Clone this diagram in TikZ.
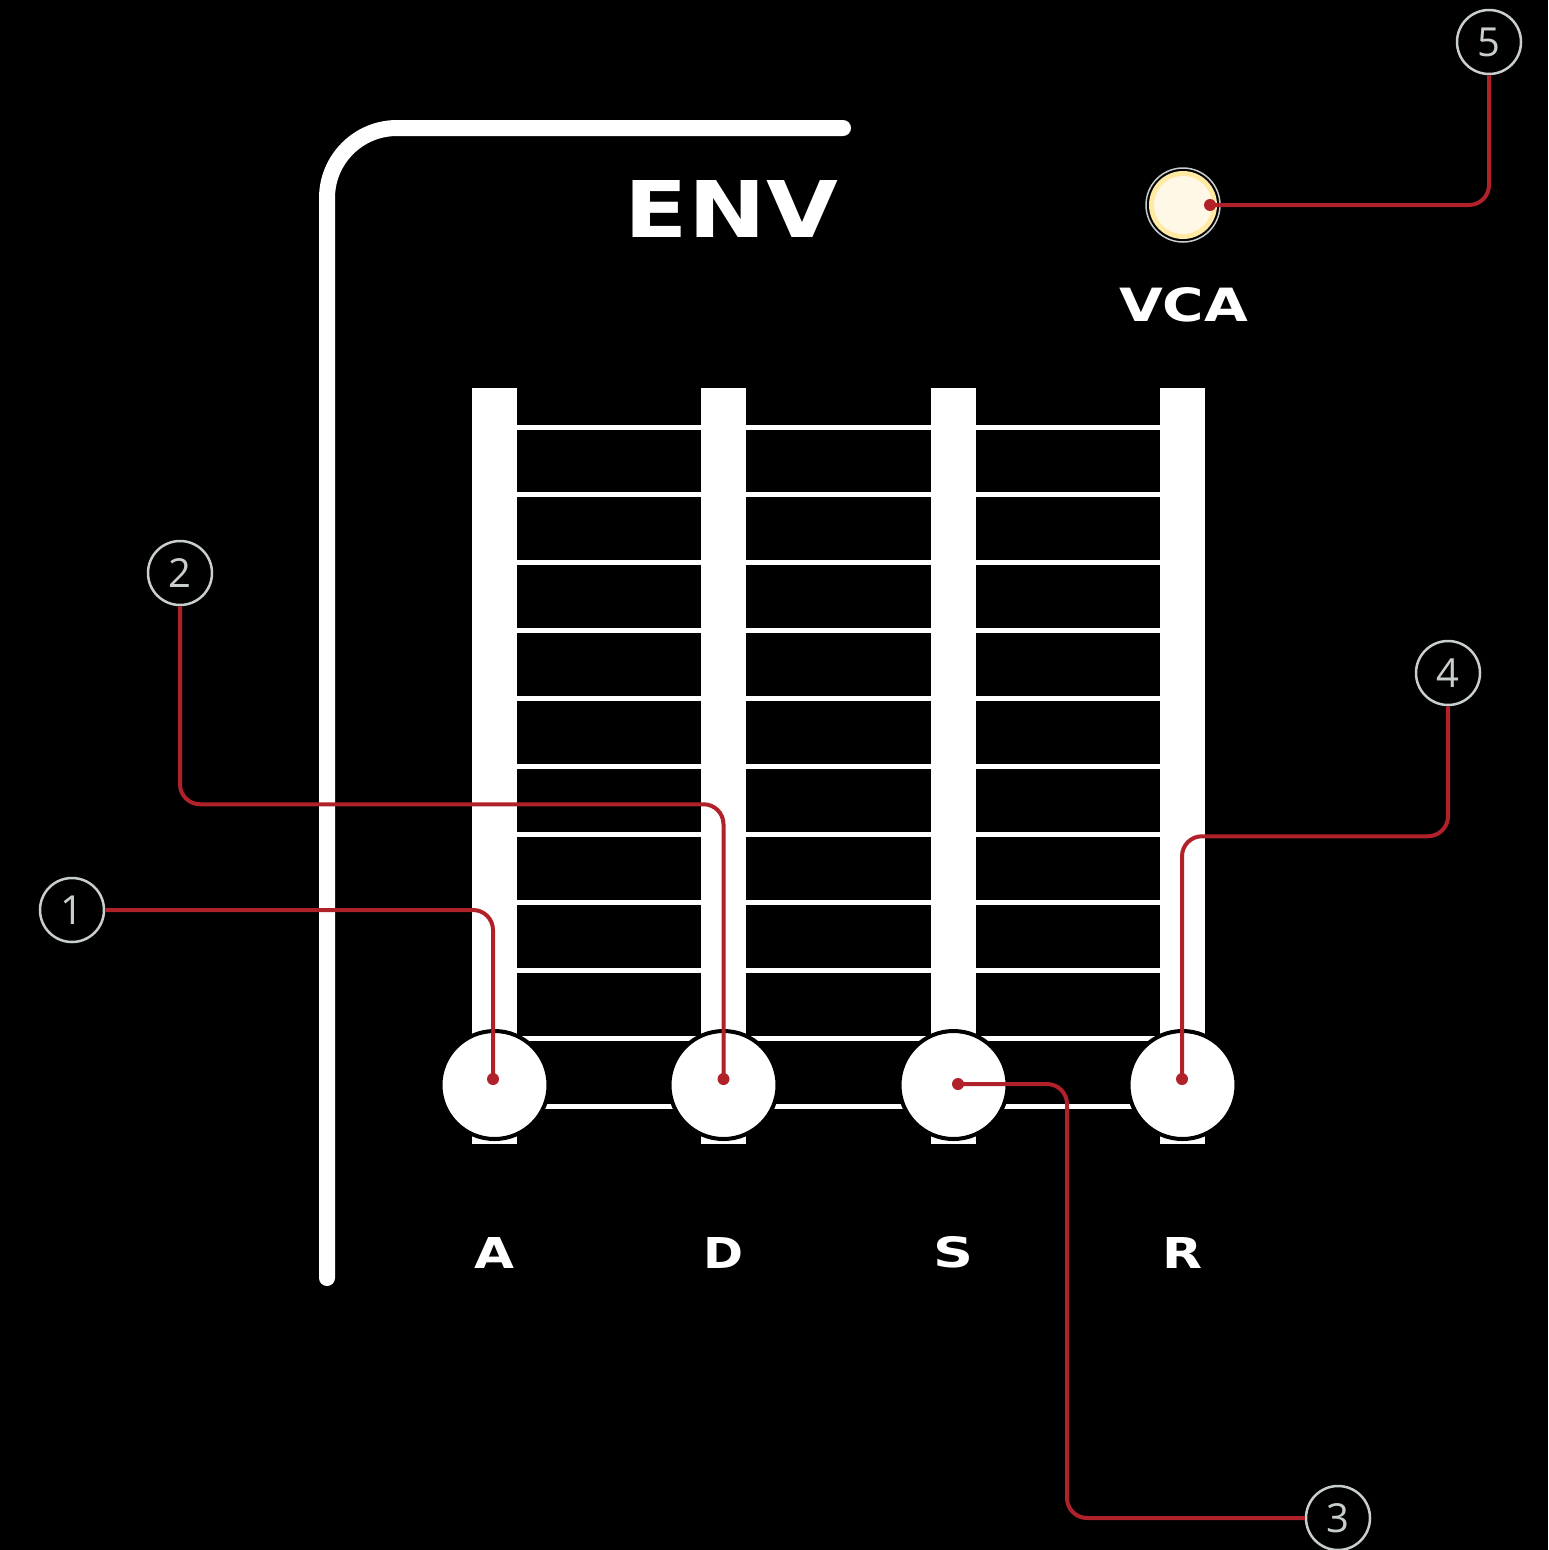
\documentclass[tikz,border=0pt]{standalone}
\usepackage{fontspec}
\setmainfont{DejaVu Sans}
\newfontfamily\callfont{Open Sans}
\usetikzlibrary{calc}
\definecolor{wire}{HTML}{B0212A}
\definecolor{calgray}{HTML}{C8CDCD}
\definecolor{ledring}{HTML}{FFE9A3}
\definecolor{ledcore}{HTML}{FFF8E6}
\begin{document}
\begin{tikzpicture}[x=1pt,y=-1pt,
  knob/.style={circle,draw=black,line width=4pt,fill=white,minimum size=108pt,inner sep=0pt},
  callout/.style={circle,draw=calgray,line width=2.5pt,minimum size=64pt,inner sep=0pt,text=calgray,font=\callfont\fontsize{40}{40}\selectfont},
  conn/.style={wire,line width=4pt,rounded corners=20pt},
  label/.style={text=white,inner sep=0pt,font=\bfseries},
  rung/.style={white,line width=5pt},
  rail/.style={fill=white}]
\fill[black] (0,0) rectangle (1548,1550);
\useasboundingbox (0,0) rectangle (1548,1550);
% bracket
\draw[white,line width=16pt,line cap=round,rounded corners=70pt] (843,128) -- (327,128) -- (327,1278);
% rungs
\foreach \i in {0,...,10} \draw[rung] (494,{427+67.9*\i}) -- (1182,{427+67.9*\i});
% rails
\foreach \x in {494.5,723.5,953.5,1182.5} \fill[rail] ({\x-22.5},388) rectangle ({\x+22.5},1144);
% knobs
\node[knob] (kA) at (494.5,1085) {};
\node[knob] (kD) at (723.5,1085) {};
\node[knob] (kS) at (953.5,1085) {};
\node[knob] (kR) at (1182.5,1085) {};
% letters
\node[label] (lA) at (494.5,1252.5) {\resizebox{40pt}{31pt}{A}};
\node[label] (lD) at (723.5,1252.5) {\resizebox{40pt}{31pt}{D}};
\node[label] (lS) at (953.5,1252.5) {\resizebox{40pt}{31pt}{S}};
\node[label] (lR) at (1182.5,1252.5) {\resizebox{40pt}{31pt}{R}};
\node[label] (env) at (731.5,208.5) {\resizebox{213pt}{57pt}{ENV}};
\node[label] (vca) at (1183.5,305) {\resizebox{129pt}{34pt}{VCA}};
% LED
\node[circle,draw=calgray,line width=1.5pt,fill=black,minimum size=74pt,inner sep=0pt] (led) at (1183,205) {};
\fill[ledring] (led.center) circle (34);
\fill[ledcore] (led.center) circle (29);
% dot coordinates
\coordinate (dA) at (493,1079);
\coordinate (dD) at (723.5,1079);
\coordinate (dS) at (958,1084);
\coordinate (dR) at (1182,1079);
\coordinate (dL) at (1210,205);
% callouts
\node[callout] (c1) at (72,910) {1};
\node[callout] (c2) at (180,573) {2};
\node[callout] (c3) at (1338,1518) {3};
\node[callout] (c4) at (1448,673) {4};
\node[callout] (c5) at (1489,42) {5};
% connectors
\draw[conn] (c1.east) -| (dA);
\draw[conn] (c2.south) -- ++(0,198) -| (dD);
\draw[conn] (dS) -- ++(109,0) |- (c3.west);
\draw[conn] (c4.south) -- ++(0,130) -| (dR);
\draw[conn] (c5.south) |- (dL);
\foreach \d in {dA,dD,dS,dR,dL} \fill[wire] (\d) circle (6);
\end{tikzpicture}
\end{document}
